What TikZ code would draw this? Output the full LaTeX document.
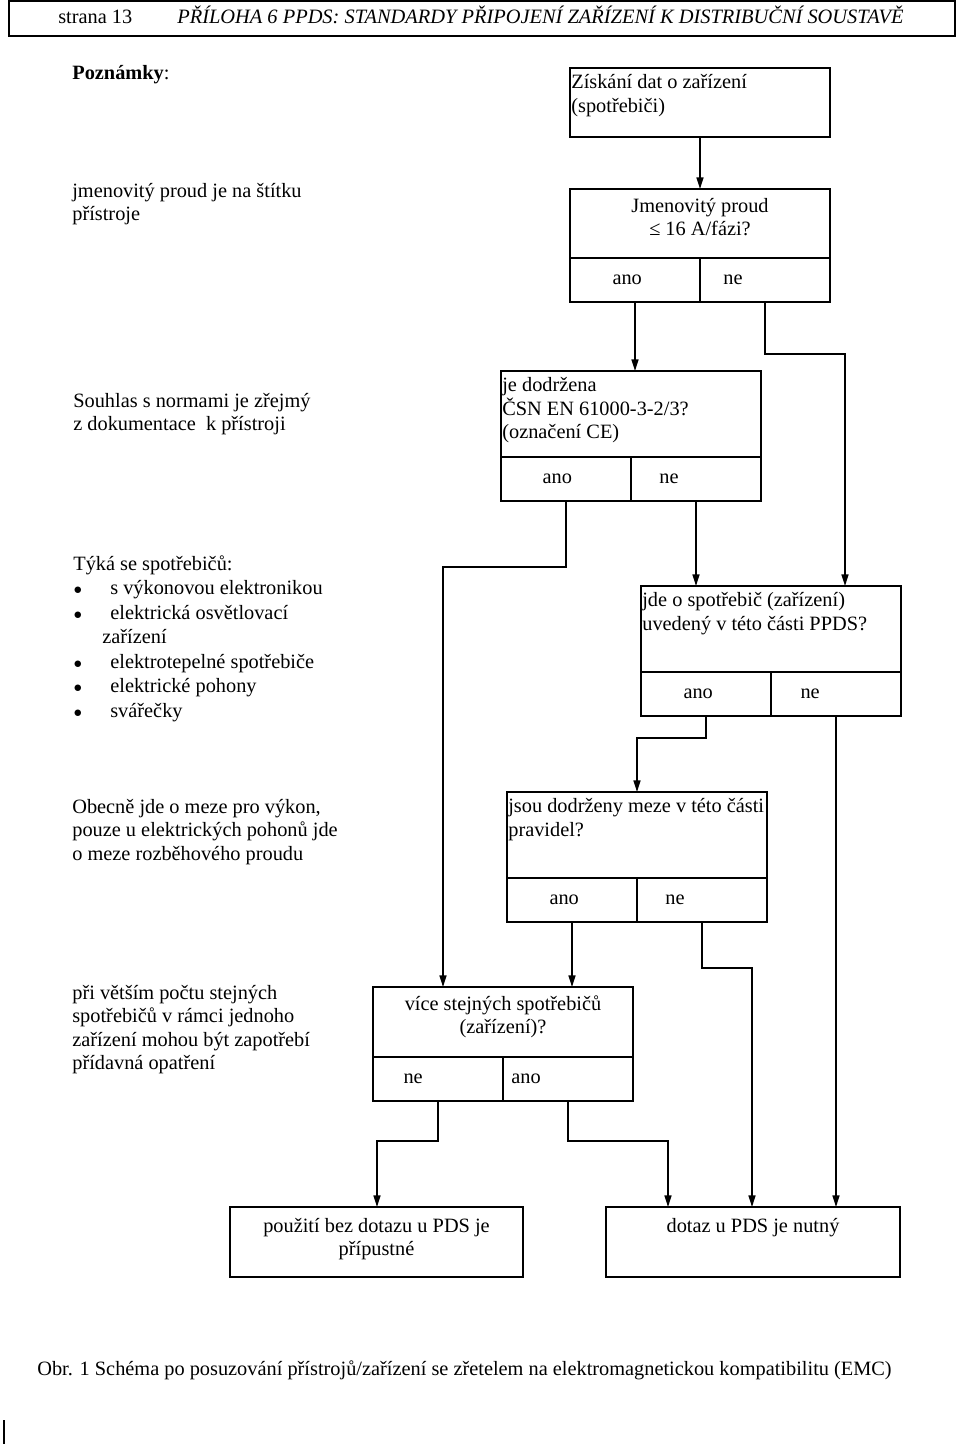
\documentclass[tikz,border=0pt]{standalone}
\usepackage{fontspec}
\setmainfont{Liberation Serif}
\usetikzlibrary{positioning,arrows.meta}
\newcommand{\boxstrut}{\rule{0pt}{9.8pt}}
\newcommand{\listdot}{\makebox[22.2pt][l]{\raisebox{0.2pt}{\fontsize{9pt}{9pt}\selectfont ●}}}

\begin{document}
\begin{tikzpicture}[x=0.6pt, y=-0.6pt, font=\fontsize{12.2pt}{14pt}\selectfont,
    box/.style={draw, rectangle, line width=1.1pt, outer sep=0pt, inner sep=0pt, minimum width=156pt},
    cell/.style={draw, rectangle, line width=1.1pt, outer sep=0pt, inner sep=0pt, text width=78pt, minimum height=26.4pt, align=left},
    lefttext/.style={anchor=north west, inner xsep=0.6pt, inner ysep=2.5pt, align=left},
    midtext/.style={anchor=north, inner xsep=0pt, inner ysep=4pt, align=center},
    note/.style={anchor=north west, inner sep=0pt, align=left},
    link/.style={line width=0.9pt},
    flow/.style={link, -{Triangle[length=7pt,width=4.2pt]}}]
    \useasboundingbox (0,0) rectangle (960,1446);

    % Header
    \node [draw, line width=1.1pt, minimum width=567.6pt, minimum height=21pt, inner sep=0pt] (head) at (482,18.5) {};
    \node [anchor=base west, inner sep=0pt] (page) at (58,23) {strana 13};
    \node [anchor=base west, inner sep=0pt, font=\fontsize{12.25pt}{14pt}\selectfont\itshape] (title) at (177,23) {PŘÍLOHA 6 PPDS: STANDARDY PŘIPOJENÍ ZAŘÍZENÍ K DISTRIBUČNÍ SOUSTAVĚ};

    % Notes
    \node [anchor=base west, inner sep=0pt] (pozn) at (72,79) {\textbf{Poznámky}:};
    \node [note] (n1) at (72,180.7) {\boxstrut jmenovitý proud je na štítku\\přístroje};
    \node [note] (n2) at (73,390.7) {\boxstrut Souhlas s normami je zřejmý\\z dokumentace\ \ k přístroji};
    \node [note, font=\fontsize{12.2pt}{14.7pt}\selectfont] (n3) at (73,553.7) {\boxstrut Týká se spotřebičů:\\
        \listdot s výkonovou elektronikou\\
        \listdot elektrická osvětlovací\\
        \hspace*{17.4pt}zařízení\\
        \listdot elektrotepelné spotřebiče\\
        \listdot elektrické pohony\\
        \listdot svářečky};
    \node [note] (n4) at (72,796.7) {\boxstrut Obecně jde o meze pro výkon,\\pouze u elektrických pohonů jde\\o meze rozběhového proudu};
    \node [note] (n5) at (72,982.7) {\boxstrut při větším počtu stejných\\spotřebičů v rámci jednoho\\zařízení mohou být zapotřebí\\přídavná opatření};

    % Data
    \node [box, minimum height=41.4pt] (get) at (700,102.5) {};
    \node [lefttext] (gett) at (get.north west) {\boxstrut Získání dat o zařízení\\(spotřebiči)};

    % Rated current
    \node [box, minimum height=41.4pt] (q2) at (700,223.5) {};
    \node [midtext] (q2t) at (q2.north) {\boxstrut Jmenovitý proud\\ ≤ 16 A/fázi?};
    \node [cell, anchor=north west] (q2a) at (q2.south west) {\hspace*{25.5pt}ano};
    \node [cell, anchor=north east] (q2n) at (q2.south east) {\hspace*{14pt}ne};

    % Standard
    \node [box, minimum height=51.6pt] (q3) at (631,414) {};
    \node [lefttext] (q3t) at (q3.north west) {\boxstrut je dodržena\\ČSN EN 61000-3-2/3?\\(označení CE)};
    \node [cell, anchor=north west] (q3a) at (q3.south west) {\hspace*{25pt}ano};
    \node [cell, anchor=north east] (q3n) at (q3.south east) {\hspace*{17pt}ne};

    % Listed device
    \node [box, minimum height=51.6pt] (q4) at (771,629) {};
    \node [lefttext] (q4t) at (q4.north west) {\boxstrut jde o spotřebič (zařízení)\\uvedený v této části PPDS?};
    \node [cell, anchor=north west] (q4a) at (q4.south west) {\hspace*{25.5pt}ano};
    \node [cell, anchor=north east] (q4n) at (q4.south east) {\hspace*{17.7pt}ne};

    % Limits
    \node [box, minimum height=51.6pt] (q5) at (637,835) {};
    \node [lefttext] (q5t) at (q5.north west) {\boxstrut jsou dodrženy meze v této části\\pravidel?};
    \node [cell, anchor=north west] (q5a) at (q5.south west) {\hspace*{25.5pt}ano};
    \node [cell, anchor=north east] (q5n) at (q5.south east) {\hspace*{17pt}ne};

    % More devices
    \node [box, minimum height=42pt] (q6) at (503,1022) {};
    \node [midtext] (q6t) at (q6.north) {\boxstrut více stejných spotřebičů\\(zařízení)?};
    \node [cell, anchor=north west] (q6n) at (q6.south west) {\hspace*{18.3pt}ne};
    \node [cell, anchor=north east] (q6a) at (q6.south east) {\hspace*{5pt}ano};

    % Results
    \node [box, minimum width=175.8pt, minimum height=42pt] (res1) at (376.5,1242) {};
    \node [midtext, yshift=-1pt] (res1t) at (res1.north) {\boxstrut použití bez dotazu u PDS je\\přípustné};
    \node [box, minimum width=176.4pt, minimum height=42pt] (res2) at (753,1242) {};
    \node [midtext, yshift=-1pt] (res2t) at (res2.north) {\boxstrut dotaz u PDS je nutný};

    % Bends
    \coordinate (c1) at (845,354);
    \coordinate (c2) at (443,567);
    \coordinate (c3) at (637,738);
    \coordinate (c4) at (752,968);
    \coordinate (c5) at (377,1141);
    \coordinate (c6) at (668,1141);

    % Connectors
    \draw [flow] (get) -- (q2);
    \draw [flow] (q2a.south) -- (q2a.south |- q3.north);
    \draw [flow] (q2n.south) |- (c1) -- (c1 |- q4.north);
    \draw [flow] (q3a.south) |- (c2) -- (c2 |- q6.north);
    \draw [flow] (q3n.south) -- (q3n.south |- q4.north);
    \draw [flow] (q4a.south) |- (c3) -- (c3 |- q5.north);
    \draw [flow] (q4n.south) -- (q4n.south |- res2.north);
    \draw [flow] (q5a.south) -- (q5a.south |- q6.north);
    \draw [flow] (q5n.south) |- (c4) -- (c4 |- res2.north);
    \draw [flow] (q6n.south) |- (c5) -- (c5 |- res1.north);
    \draw [flow] (q6a.south) |- (c6) -- (c6 |- res2.north);

    % Caption
    \node [anchor=base west, inner sep=0pt] (cap) at (37,1375) {Obr. 1 Schéma po posuzování přístrojů/zařízení se zřetelem na elektromagnetickou kompatibilitu (EMC)};
    \draw [line width=1.2pt] (4,1420) -- (4,1444);
\end{tikzpicture}
\end{document}
